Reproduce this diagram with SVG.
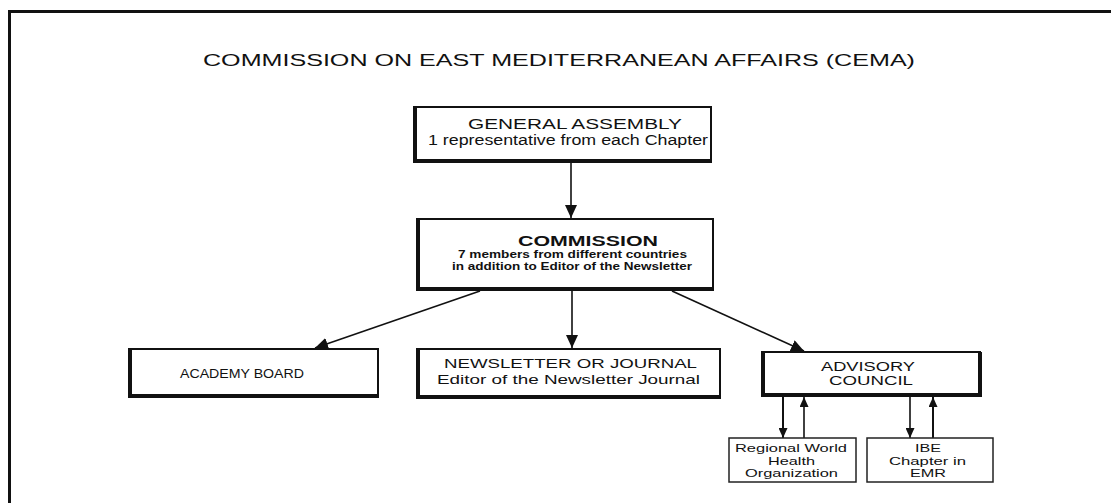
<svg xmlns="http://www.w3.org/2000/svg" width="1111" height="503" viewBox="0 0 1111 503">
<defs>
<style>
.t{font-family:"Liberation Sans",Arial,sans-serif;fill:#111;}
.box{fill:#fff;stroke:#111;stroke-width:2;}
.sh{fill:none;stroke:#111;stroke-width:4;}
.sbox{fill:#fff;stroke:#222;stroke-width:1.5;}
.con{fill:none;stroke:#111;stroke-width:1.6;}
.con2{fill:none;stroke:#111;stroke-width:2;}
</style>
<marker id="ah" markerWidth="13" markerHeight="12" refX="13" refY="6" orient="auto" markerUnits="userSpaceOnUse">
<path d="M0,0 L13,6 L0,12 Z" fill="#111"/>
</marker>
<marker id="ahs" markerWidth="10" markerHeight="9" refX="10" refY="4.5" orient="auto" markerUnits="userSpaceOnUse">
<path d="M0,0 L10,4.5 L0,9 Z" fill="#111"/>
</marker>
</defs>
<rect width="1111" height="503" fill="#fff"/>
<path d="M9.5,503 V11.5 H1111" fill="none" stroke="#111" stroke-width="3"/>
<text class="t" x="203" y="66" font-size="16.8" textLength="712" lengthAdjust="spacingAndGlyphs">COMMISSION ON EAST MEDITERRANEAN AFFAIRS (CEMA)</text>

<g id="connectors">
<line class="con" x1="571" y1="162" x2="571" y2="218" marker-end="url(#ah)"/>
<line class="con" x1="480" y1="291" x2="315" y2="348" marker-end="url(#ah)"/>
<line class="con" x1="572" y1="291" x2="572" y2="348" marker-end="url(#ah)"/>
<line class="con" x1="672" y1="291" x2="804" y2="351" marker-end="url(#ah)"/>
<line class="con2" x1="783" y1="397" x2="783" y2="438" marker-end="url(#ahs)"/>
<line class="con" x1="804" y1="438" x2="804" y2="397" marker-end="url(#ahs)"/>
<line class="con" x1="910" y1="397" x2="910" y2="438" marker-end="url(#ahs)"/>
<line class="con2" x1="933" y1="438" x2="933" y2="397" marker-end="url(#ahs)"/>
</g>

<g id="general-assembly">
<rect class="box" x="414" y="107" width="297" height="55"/>
<path class="sh" d="M415,107 V161 H711"/>
<text class="t" x="468" y="129" font-size="14" textLength="214" lengthAdjust="spacingAndGlyphs">GENERAL ASSEMBLY</text>
<text class="t" x="428" y="145" font-size="14" textLength="280" lengthAdjust="spacingAndGlyphs">1 representative from each Chapter</text>
</g>

<g id="commission">
<rect class="box" x="417" y="219" width="296" height="71"/>
<path class="sh" d="M418,219 V289 H713"/>
<text class="t" x="518" y="246" font-size="14" font-weight="bold" textLength="140" lengthAdjust="spacingAndGlyphs">COMMISSION</text>
<text class="t" x="458" y="258" font-size="11" font-weight="bold" textLength="229" lengthAdjust="spacingAndGlyphs">7 members from different countries</text>
<text class="t" x="452" y="270" font-size="11" font-weight="bold" textLength="240" lengthAdjust="spacingAndGlyphs">in addition to Editor of the Newsletter</text>
</g>

<g id="academy-board">
<rect class="box" x="129" y="349" width="249" height="48"/>
<path class="sh" d="M130,349 V396 H378"/>
<text class="t" x="180" y="378" font-size="13.5" textLength="124" lengthAdjust="spacingAndGlyphs">ACADEMY BOARD</text>
</g>

<g id="newsletter">
<rect class="box" x="417" y="349" width="303" height="49"/>
<path class="sh" d="M418,349 V397 H720"/>
<text class="t" x="444" y="368" font-size="13.5" textLength="253" lengthAdjust="spacingAndGlyphs">NEWSLETTER OR JOURNAL</text>
<text class="t" x="437" y="384" font-size="13.5" textLength="263" lengthAdjust="spacingAndGlyphs">Editor of the Newsletter Journal</text>
</g>

<g id="advisory-council">
<rect class="box" x="762" y="352" width="218" height="44"/>
<path class="sh" d="M763,352 V395 H980 V352"/>
<text class="t" x="821" y="371" font-size="12" textLength="94" lengthAdjust="spacingAndGlyphs">ADVISORY</text>
<text class="t" x="829" y="385" font-size="12" textLength="84" lengthAdjust="spacingAndGlyphs">COUNCIL</text>
</g>

<g id="regional-who">
<rect class="sbox" x="729" y="438" width="127" height="44"/>
<text class="t" x="735" y="452" font-size="11" textLength="112" lengthAdjust="spacingAndGlyphs">Regional World</text>
<text class="t" x="768" y="465" font-size="11" textLength="47" lengthAdjust="spacingAndGlyphs">Health</text>
<text class="t" x="745" y="477" font-size="11" textLength="93" lengthAdjust="spacingAndGlyphs">Organization</text>
</g>

<g id="ibe-chapter">
<rect class="sbox" x="867" y="438" width="126" height="44"/>
<text class="t" x="915" y="452" font-size="11" textLength="26" lengthAdjust="spacingAndGlyphs">IBE</text>
<text class="t" x="889" y="465" font-size="11" textLength="77" lengthAdjust="spacingAndGlyphs">Chapter in</text>
<text class="t" x="910" y="477" font-size="11" textLength="36" lengthAdjust="spacingAndGlyphs">EMR</text>
</g>
</svg>
